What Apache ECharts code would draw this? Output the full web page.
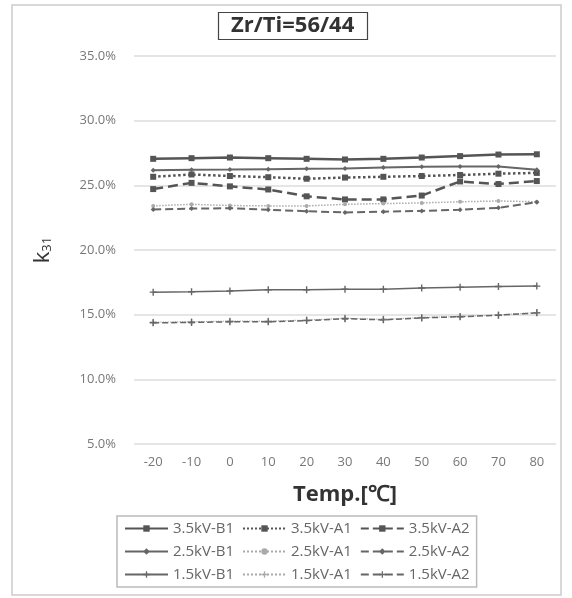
<!DOCTYPE html>
<html>
<head>
<meta charset="utf-8">
<script src="https://cdn.jsdelivr.net/npm/echarts@6/dist/echarts.min.js"></script>
<style>
  html, body { margin: 0; padding: 0; background: #fff; }
  #main { width: 572px; height: 598px; }
</style>
</head>
<body>
<div id="main"></div>
<script>
// temperatures on the x axis
var temps = ["-20", "-10", "0", "10", "20", "30", "40", "50", "60", "70", "80"];

// k31 values in %
var b1_35 = [27.05, 27.1, 27.15, 27.1, 27.05, 27.0, 27.05, 27.15, 27.26, 27.38, 27.4];
var a1_35 = [25.66, 25.84, 25.72, 25.63, 25.51, 25.6, 25.66, 25.72, 25.8, 25.9, 25.96];
var a2_35 = [24.71, 25.19, 24.92, 24.68, 24.15, 23.91, 23.91, 24.21, 25.3, 25.1, 25.33];
var b1_25 = [26.17, 26.2, 26.22, 26.25, 26.28, 26.31, 26.37, 26.43, 26.46, 26.46, 26.2];
var a1_25 = [23.41, 23.53, 23.44, 23.41, 23.41, 23.53, 23.59, 23.64, 23.73, 23.79, 23.73];
var a2_25 = [23.14, 23.2, 23.23, 23.11, 23.0, 22.9, 22.96, 23.02, 23.11, 23.26, 23.7];
var b1_15 = [16.74, 16.77, 16.83, 16.92, 16.92, 16.97, 16.97, 17.06, 17.12, 17.18, 17.21];
var a1_15 = [14.42, 14.45, 14.5, 14.5, 14.58, 14.72, 14.64, 14.78, 14.86, 14.98, 15.16];
var a2_15 = [14.37, 14.4, 14.45, 14.45, 14.54, 14.69, 14.6, 14.75, 14.84, 14.96, 15.14];

var yTicks = { min: 5, max: 35, step: 5 };

var plus = "path://M4,0H6V10H4ZM0,4H10V6H0Z";

function line(name, data, color, width, type, symbol, size) {
  return {
    name: name,
    type: "line",
    data: data,
    symbol: symbol,
    symbolSize: size,
    showSymbol: true,
    itemStyle: { color: color },
    lineStyle: { color: color, width: width, type: type }
  };
}

var chart = echarts.init(document.getElementById("main"));
chart.setOption({
  animation: false,
  backgroundColor: "#fff",
  textStyle: { fontFamily: "Open Sans" },
  graphic: [{
    type: "rect",
    shape: { x: 12, y: 5, width: 549, height: 590 },
    style: { fill: "none", stroke: "#ccc", lineWidth: 1.5 }
  }],
  title: {
    text: "Zr/Ti=56/44",
    left: 218,
    top: 12,
    padding: [2, 13],
    borderColor: "#444",
    borderWidth: 1.2,
    textStyle: { fontSize: 22, lineHeight: 24, fontWeight: "bold", color: "#333", fontFamily: "Open Sans" }
  },
  grid: { left: 134, right: 16, top: 56, bottom: 154 },
  xAxis: {
    type: "category",
    data: temps,
    boundaryGap: true,
    axisLine: { show: false },
    axisTick: { show: false },
    axisLabel: { color: "#777", fontSize: 13, margin: 12 },
    name: "Temp.[℃]",
    nameLocation: "middle",
    nameGap: 40,
    nameTextStyle: { fontSize: 22, fontWeight: "bold", color: "#333" }
  },
  yAxis: {
    type: "value",
    min: yTicks.min,
    max: yTicks.max,
    interval: yTicks.step,
    axisLabel: {
      color: "#777",
      fontSize: 13,
      margin: 18,
      formatter: function (v) { return v.toFixed(1) + "%"; }
    },
    splitLine: { lineStyle: { color: "#ddd", width: 1.5 } },
    name: "{k|k}{s|31}",
    nameLocation: "middle",
    nameRotate: 90,
    nameGap: 80,
    nameTextStyle: {
      rich: {
        k: { fontSize: 22, color: "#333" },
        s: { fontSize: 13, color: "#333", verticalAlign: "bottom" }
      }
    }
  },
  legend: {
    left: 117,
    top: 516,
    width: 372,
    padding: [5, 7],
    itemGap: 8,
    itemWidth: 43,
    itemHeight: 8,
    borderColor: "#bbb",
    borderWidth: 1.5,
    textStyle: { fontSize: 15, color: "#666" },
    data: ["3.5kV-B1", "3.5kV-A1", "3.5kV-A2",
           "2.5kV-B1", "2.5kV-A1", "2.5kV-A2",
           "1.5kV-B1", "1.5kV-A1", "1.5kV-A2"]
  },
  series: [
    line("3.5kV-B1", b1_35, "#555", 2.5, "solid", "rect", 6),
    line("3.5kV-A1", a1_35, "#555", 2.5, "dotted", "rect", 6),
    line("3.5kV-A2", a2_35, "#555", 2.5, "dashed", "rect", 6),
    line("2.5kV-B1", b1_25, "#666", 2, "solid", "diamond", 5),
    line("2.5kV-A1", a1_25, "#aaa", 1.5, "dotted", "circle", 4),
    line("2.5kV-A2", a2_25, "#666", 2, "dashed", "diamond", 5),
    line("1.5kV-B1", b1_15, "#666", 1.5, "solid", plus, 7),
    line("1.5kV-A1", a1_15, "#aaa", 1.2, "dotted", plus, 7),
    line("1.5kV-A2", a2_15, "#666", 1.5, "dashed", plus, 7)
  ]
});
</script>
</body>
</html>
